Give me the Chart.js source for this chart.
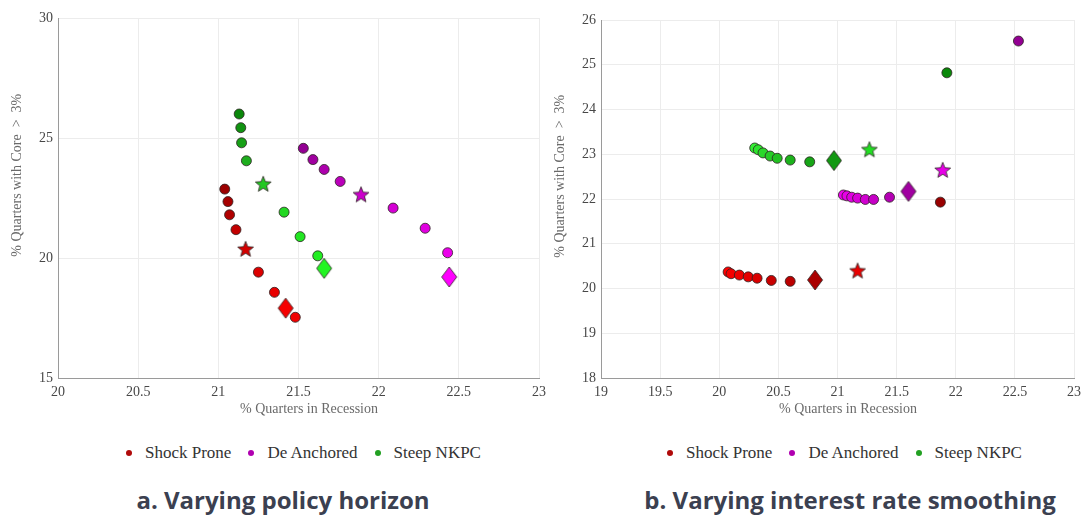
<!DOCTYPE html>
<html>
<head>
<meta charset="utf-8">
<script src="https://cdn.jsdelivr.net/npm/chart.js@4.4.1/dist/chart.umd.min.js"></script>
<style>
  body { margin:0; background:#fff; width:1087px; height:517px; position:relative; overflow:hidden; }
  .panel { position:absolute; top:0; }
  .legend { position:absolute; top:443px; display:flex; align-items:center; font:17px "Liberation Serif", serif; color:#333; white-space:nowrap; }
  .legend .item { display:flex; align-items:center; margin-right:17px; }
  .legend .dot { display:inline-block; width:6px; height:6px; border-radius:50%; margin-right:13px; }
  .caption { position:absolute; top:483px; font:bold 24px "Open Sans", sans-serif; color:#3b4050; white-space:nowrap; transform:translateX(-50%); }
</style>
</head>
<body>
<div class="panel" style="left:0;width:552px;height:430px"><canvas id="chartA" width="552" height="430"></canvas></div>
<div class="panel" style="left:545px;width:542px;height:430px"><canvas id="chartB" width="542" height="430"></canvas></div>
<div class="legend" id="legendA" style="left:126px"></div>
<div class="legend" id="legendB" style="left:667px"></div>
<div class="caption" style="left:283px">a. Varying policy horizon</div>
<div class="caption" style="left:850px">b. Varying interest rate smoothing</div>

<script>
// ---- data: panel a (varying policy horizon) ----
const aShockX = [21.04, 21.06, 21.07, 21.11, 21.25, 21.35, 21.48];
const aShockY = [22.87, 22.35, 21.80, 21.18, 19.41, 18.57, 17.53];
const aShockStar = [21.17, 20.38];
const aShockDiamond = [21.42, 17.91];

const aDeAnchX = [21.53, 21.59, 21.66, 21.76, 22.09, 22.29, 22.43];
const aDeAnchY = [24.57, 24.10, 23.69, 23.19, 22.08, 21.24, 20.22];
const aDeAnchStar = [21.89, 22.65];
const aDeAnchDiamond = [22.44, 19.21];

const aSteepX = [21.13, 21.14, 21.145, 21.175, 21.41, 21.51, 21.62];
const aSteepY = [26.00, 25.43, 24.80, 24.05, 21.91, 20.89, 20.09];
const aSteepStar = [21.28, 23.09];
const aSteepDiamond = [21.66, 19.57];

// ---- data: panel b (varying interest rate smoothing) ----
const bShockX = [20.075, 20.10, 20.17, 20.245, 20.32, 20.44, 20.60, 21.87];
const bShockY = [20.37, 20.33, 20.30, 20.26, 20.23, 20.18, 20.16, 21.93];
const bShockStar = [21.17, 20.40];
const bShockDiamond = [20.81, 20.19];

const bDeAnchX = [21.05, 21.08, 21.12, 21.17, 21.235, 21.305, 21.44, 22.53];
const bDeAnchY = [22.09, 22.07, 22.04, 22.02, 21.99, 21.99, 22.04, 25.53];
const bDeAnchStar = [21.89, 22.65];
const bDeAnchDiamond = [21.60, 22.17];

const bSteepX = [20.30, 20.33, 20.37, 20.43, 20.49, 20.60, 20.765, 21.925];
const bSteepY = [23.14, 23.10, 23.03, 22.96, 22.91, 22.87, 22.83, 24.82];
const bSteepStar = [21.27, 23.11];
const bSteepDiamond = [20.97, 22.86];

const seriesNames = ["Shock Prone", "De Anchored", "Steep NKPC"];
const aXTicks = [20, 23], aYTicks = [15, 30, 5];
const bXTicks = [19, 23], bYTicks = [18, 26, 1];

// ---- styles ----
const legendColors = ["#b00a0a", "#b000b0", "#22a022"];
const aShockFill = ["#9c0000", "#a60000", "#b00000", "#c20000", "#dc0000", "#e80000", "#f00000"];
const aDeAnchFill = ["#930093", "#a000a0", "#ad00ad", "#ba00ba", "#d400d4", "#e000e0", "#eb00eb"];
const aSteepFill = ["#0b870b", "#119311", "#17a017", "#1ead1e", "#22d822", "#22e622", "#22ee22"];
const aStarFill = ["#d40000", "#cc00cc", "#22c822"];
const aDiamondFill = ["#f50000", "#ff00ff", "#22f522"];

const bShockFill = ["#ff0000", "#f60000", "#ee0000", "#e40000", "#da0000", "#c80000", "#bb0000", "#990000"];
const bDeAnchFill = ["#ee00ee", "#e800e8", "#e000e0", "#d800d8", "#d000d0", "#c600c6", "#b400b4", "#930093"];
const bSteepFill = ["#33ee33", "#2ee42e", "#2ad82a", "#26cc26", "#22c022", "#1cb21c", "#17a517", "#0a880a"];
const bStarFill = ["#e80000", "#e600e6", "#22dd22"];
const bDiamondFill = ["#aa0000", "#a000a0", "#129812"];

const edge = "rgba(45,35,35,0.8)";
const tickFont = { family: "'Liberation Serif', serif", size: 14 };
const titleFont = { family: "'Liberation Serif', serif", size: 14 };

function starImg(fill) {
  const r = 8.3, ri = 3.6, s = 20;
  const c = document.createElement("canvas"); c.width = c.height = s;
  const g = c.getContext("2d");
  g.translate(s / 2, s / 2 + 0.7);
  g.beginPath();
  for (let i = 0; i < 10; i++) {
    const rad = i % 2 ? ri : r, a = -Math.PI / 2 + i * Math.PI / 5;
    g.lineTo(rad * Math.cos(a), rad * Math.sin(a));
  }
  g.closePath();
  g.fillStyle = fill; g.fill();
  g.lineWidth = 1; g.strokeStyle = edge; g.stroke();
  return c;
}

function diamondImg(fill) {
  const w = 7.5, h = 10, c = document.createElement("canvas");
  c.width = 18; c.height = 22;
  const g = c.getContext("2d");
  g.translate(9, 11);
  g.beginPath(); g.moveTo(0, -h); g.lineTo(w, 0); g.lineTo(0, h); g.lineTo(-w, 0); g.closePath();
  g.fillStyle = fill; g.fill();
  g.lineWidth = 1; g.strokeStyle = edge; g.stroke();
  return c;
}

const pts = (xs, ys) => xs.map((x, i) => ({ x, y: ys[i] }));
const one = p => [{ x: p[0], y: p[1] }];

function circles(xs, ys, fill) {
  return { data: pts(xs, ys), pointStyle: "circle", pointRadius: 5, backgroundColor: fill, borderColor: edge, borderWidth: 1, showLine: false };
}
function marker(p, img) {
  return { data: one(p), pointStyle: img, pointRadius: 8, showLine: false };
}

function options(xr, yr, yAxisW, top, rightPad, yTitlePad) {
  return {
    responsive: false,
    animation: false,
    layout: { padding: { top, right: rightPad, bottom: 0, left: 0 } },
    plugins: { legend: { display: false }, tooltip: { enabled: false } },
    scales: {
      x: {
        type: "linear", min: xr[0], max: xr[1],
        ticks: { stepSize: 0.5, font: tickFont, color: "#474747", padding: 6, maxRotation: 0, callback: v => String(v) },
        grid: { color: "#ececec", drawTicks: false },
        border: { color: "#9a9a9a" },
        title: { display: true, text: "      % Quarters in Recession", font: titleFont, color: "#6a6a6a", padding: { top: 0, bottom: 12 } },
        afterFit(s) { s.height = 52; }
      },
      y: {
        type: "linear", min: yr[0], max: yr[1],
        ticks: { stepSize: yr[2], font: tickFont, color: "#474747", padding: 5, callback: v => String(v) },
        grid: { color: "#ececec", drawTicks: false },
        border: { color: "#9a9a9a" },
        title: { display: true, text: "             % Quarters with Core  >  3%", font: titleFont, color: "#6a6a6a", padding: { top: yTitlePad, bottom: 0 } },
        afterFit(s) { s.width = yAxisW; }
      }
    }
  };
}

new Chart(document.getElementById("chartA"), {
  type: "scatter",
  data: { datasets: [
    circles(aShockX, aShockY, aShockFill),
    marker(aShockStar, starImg(aStarFill[0])),
    marker(aShockDiamond, diamondImg(aDiamondFill[0])),
    circles(aDeAnchX, aDeAnchY, aDeAnchFill),
    marker(aDeAnchStar, starImg(aStarFill[1])),
    marker(aDeAnchDiamond, diamondImg(aDiamondFill[1])),
    circles(aSteepX, aSteepY, aSteepFill),
    marker(aSteepStar, starImg(aStarFill[2])),
    marker(aSteepDiamond, diamondImg(aDiamondFill[2]))
  ] },
  options: options(aXTicks, aYTicks, 58, 18, 12, 9)
});

new Chart(document.getElementById("chartB"), {
  type: "scatter",
  data: { datasets: [
    marker(bShockDiamond, diamondImg(bDiamondFill[0])),
    circles(bShockX, bShockY, bShockFill),
    marker(bShockStar, starImg(bStarFill[0])),
    marker(bDeAnchDiamond, diamondImg(bDiamondFill[1])),
    circles(bDeAnchX, bDeAnchY, bDeAnchFill),
    marker(bDeAnchStar, starImg(bStarFill[1])),
    marker(bSteepDiamond, diamondImg(bDiamondFill[2])),
    circles(bSteepX, bSteepY, bSteepFill),
    marker(bSteepStar, starImg(bStarFill[2]))
  ] },
  options: options(bXTicks, bYTicks, 56, 20, 9, 7)
});

function legend(id) {
  document.getElementById(id).innerHTML = seriesNames.map((n, i) =>
    `<div class="item"><span class="dot" style="background:${legendColors[i]}"></span>${n}</div>`).join("");
}
legend("legendA");
legend("legendB");
</script>
</body>
</html>
